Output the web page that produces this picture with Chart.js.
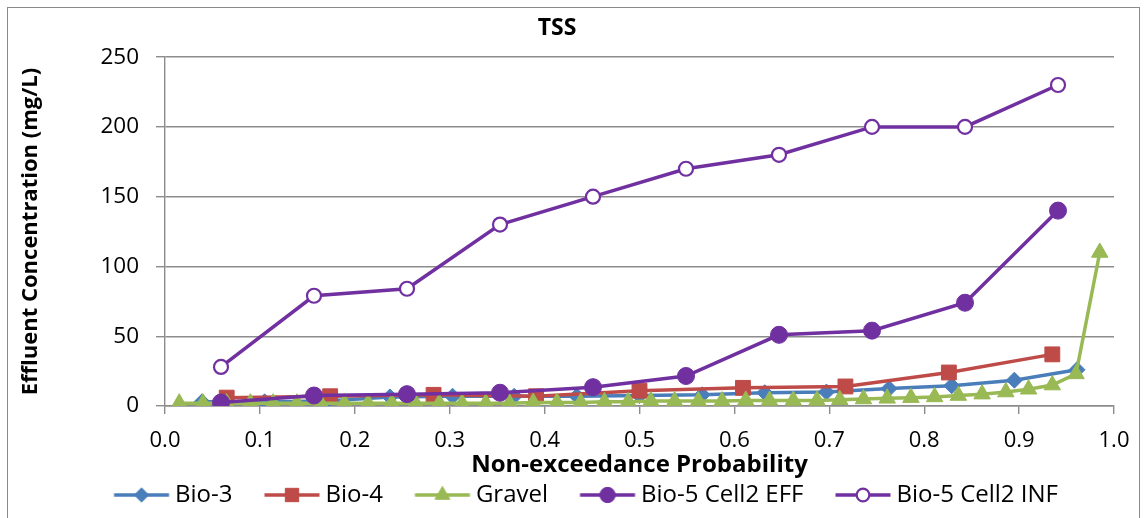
<!DOCTYPE html>
<html><head><meta charset="utf-8">
<script src="https://cdn.jsdelivr.net/npm/chart.js@4.4.1/dist/chart.umd.min.js"></script>
<style>html,body{margin:0;padding:0;background:#fff}#wrap{width:1147px;height:518px}</style>
</head><body><div id="wrap"><canvas id="c" width="1147" height="518"></canvas></div>
<script>
// ---- data ----
const seriesNames = ['Bio-3', 'Bio-4', 'Gravel', 'Bio-5 Cell2 EFF', 'Bio-5 Cell2 INF'];
const xTickValues = [0, 0.1, 0.2, 0.3, 0.4, 0.5, 0.6, 0.7, 0.8, 0.9, 1.0];

const bio3Prob = [0.039, 0.105, 0.171, 0.237, 0.303, 0.368, 0.434, 0.500, 0.566, 0.632, 0.697, 0.763, 0.829, 0.895, 0.961];
const bio3Conc = [3, 3, 3.5, 6.5, 7, 7, 7, 7.5, 8, 9.5, 10, 12.5, 14.5, 18.5, 26];

const bio4Prob = [0.065, 0.174, 0.283, 0.391, 0.500, 0.609, 0.717, 0.826, 0.935];
const bio4Conc = [6, 7, 8, 7, 11, 13, 14, 24, 37];

const gravelProb = [0.015, 0.040, 0.065, 0.090, 0.114, 0.139, 0.164, 0.189, 0.214, 0.239,
                    0.264, 0.289, 0.313, 0.338, 0.363, 0.388, 0.413, 0.438, 0.463, 0.488,
                    0.512, 0.537, 0.562, 0.587, 0.612, 0.637, 0.662, 0.687, 0.711, 0.736,
                    0.761, 0.786, 0.811, 0.836, 0.861, 0.886, 0.910, 0.935, 0.960, 0.985];
const gravelConc = [2, 2, 2, 2, 2, 2, 2, 2, 2, 2,
                    2, 2, 2, 2, 2, 2.5, 2.5, 2.5, 3, 3,
                    3.5, 3.5, 3.5, 3.5, 4, 4, 4, 4, 4.5, 5,
                    5.5, 6, 6.5, 7.5, 8.5, 10, 12, 15, 23, 110];

const bio5Prob = [0.059, 0.157, 0.255, 0.353, 0.451, 0.549, 0.647, 0.745, 0.843, 0.941];
const bio5EffConc = [2.5, 7.5, 8.5, 9.5, 13.5, 21.5, 51, 54, 74, 140];
const bio5InfConc = [28, 79, 84, 130, 150, 170, 180, 200, 200, 230];

// ---- styling ----
const FONT = "'Open Sans', 'Liberation Sans', sans-serif";
const BLUE = '#4A7EBB', RED = '#BE4B48', GREEN = '#98B954', PURPLE = '#7030A0';
const GRID = '#8c8c8c';

function pts(xs, ys) { return xs.map((x, i) => ({x: x, y: ys[i]})); }

const styles = [
  {color: BLUE, pointStyle: 'rectRot', radius: 8, fill: BLUE, bw: 1, order: 5},
  {color: RED, pointStyle: 'rect', radius: 10.5, fill: RED, bw: 1, order: 4},
  {color: GREEN, pointStyle: 'triangle', radius: 9.5, fill: GREEN, bw: 1, order: 3},
  {color: PURPLE, pointStyle: 'circle', radius: 8.5, fill: PURPLE, bw: 1, order: 2},
  {color: PURPLE, pointStyle: 'circle', radius: 7, fill: '#ffffff', bw: 2.2, order: 1}
];
const dataPairs = [
  pts(bio3Prob, bio3Conc), pts(bio4Prob, bio4Conc), pts(gravelProb, gravelConc),
  pts(bio5Prob, bio5EffConc), pts(bio5Prob, bio5InfConc)
];

// legend sample images (line + marker)
function legendImage(st) {
  const cv = document.createElement('canvas');
  cv.width = 90; cv.height = 26;
  const g = cv.getContext('2d');
  g.strokeStyle = st.color; g.lineWidth = 3.5;
  g.beginPath(); g.moveTo(32.5, 13); g.lineTo(87.5, 13); g.stroke();
  g.fillStyle = st.fill; g.strokeStyle = st.color; g.lineWidth = st.bw;
  Chart.helpers.drawPoint(g, {pointStyle: st.pointStyle, radius: st.radius * 0.9, borderWidth: st.bw}, 60, 13);
  return cv;
}
const legendImgs = styles.map(legendImage);

const frame = {
  id: 'frame',
  afterLayout(chart) {
    // reference legend row sits slightly right of the canvas centre
    if (chart.legend) { chart.legend.left += 17; chart.legend.right += 17; }
  },
  beforeDraw(chart) {
    const ctx = chart.ctx;
    ctx.save();
    ctx.fillStyle = '#fff'; ctx.fillRect(0, 0, chart.width, chart.height);
    ctx.strokeStyle = '#8a8a8a'; ctx.lineWidth = 1;
    ctx.strokeRect(7.5, 7.5, 1132, 540);
    ctx.restore();
  }
};

Chart.defaults.color = '#000';
Chart.defaults.font.family = FONT;

new Chart(document.getElementById('c'), {
  type: 'line',
  data: {
    datasets: seriesNames.map((name, i) => ({
      label: name,
      data: dataPairs[i],
      borderColor: styles[i].color,
      backgroundColor: styles[i].fill,
      borderWidth: 3.5,
      pointStyle: styles[i].pointStyle,
      pointRadius: styles[i].radius,
      pointBackgroundColor: styles[i].fill,
      pointBorderColor: styles[i].color,
      pointBorderWidth: styles[i].bw,
      fill: false,
      tension: 0,
      order: styles[i].order
    }))
  },
  options: {
    responsive: false,
    animation: false,
    events: [],
    layout: {padding: {left: 0, right: 33, top: 0, bottom: 1}},
    plugins: {
      title: {
        display: true, text: 'TSS', color: '#000',
        font: {size: 23, weight: 'bold', family: FONT},
        padding: {top: 15, bottom: 14.5}
      },
      legend: {
        position: 'bottom',
        labels: {
          usePointStyle: true,
          pointStyleWidth: 73,
          padding: 8,
          color: '#000',
          font: {size: 24, family: FONT},
          sort: (a, b) => a.datasetIndex - b.datasetIndex,
          generateLabels: (chart) => {
            const items = Chart.defaults.plugins.legend.labels.generateLabels(chart);
            items.forEach(it => { it.pointStyle = legendImgs[it.datasetIndex]; it.fontColor = '#000'; });
            return items;
          }
        }
      },
      tooltip: {enabled: false}
    },
    scales: {
      x: {
        type: 'linear', position: 'bottom', min: 0, max: 1,
        afterFit: (s) => { s.height = 69; },
        afterBuildTicks: (s) => { s.ticks = xTickValues.map(v => ({value: v})); },
        ticks: {
          font: {size: 22, family: FONT}, color: '#000', padding: 14,
          maxRotation: 0, autoSkip: false,
          callback: (v) => Number(v).toFixed(1)
        },
        grid: {drawOnChartArea: false, drawTicks: true, tickLength: 8, color: GRID, lineWidth: 1.4},
        border: {display: true, color: GRID, width: 1.4},
        title: {
          display: true, text: 'Non-exceedance Probability', color: '#000',
          font: {size: 24, weight: 'bold', family: FONT, lineHeight: 0.8},
          padding: {top: 0, bottom: 0}
        }
      },
      y: {
        type: 'linear', position: 'left', min: 0, max: 250,
        afterFit: (s) => { s.width = 165; },
        ticks: {font: {size: 22.5, family: FONT}, color: '#000', padding: 17, stepSize: 50},
        grid: {drawOnChartArea: true, drawTicks: true, tickLength: 9, color: GRID, lineWidth: 1.4},
        border: {display: true, color: GRID, width: 1.4},
        title: {
          display: true, text: 'Effluent Concentration (mg/L)', color: '#000',
          font: {size: 22, weight: 'bold', family: FONT},
          padding: {top: 18, bottom: 0}
        }
      }
    }
  },
  plugins: [frame]
});
</script></body></html>
